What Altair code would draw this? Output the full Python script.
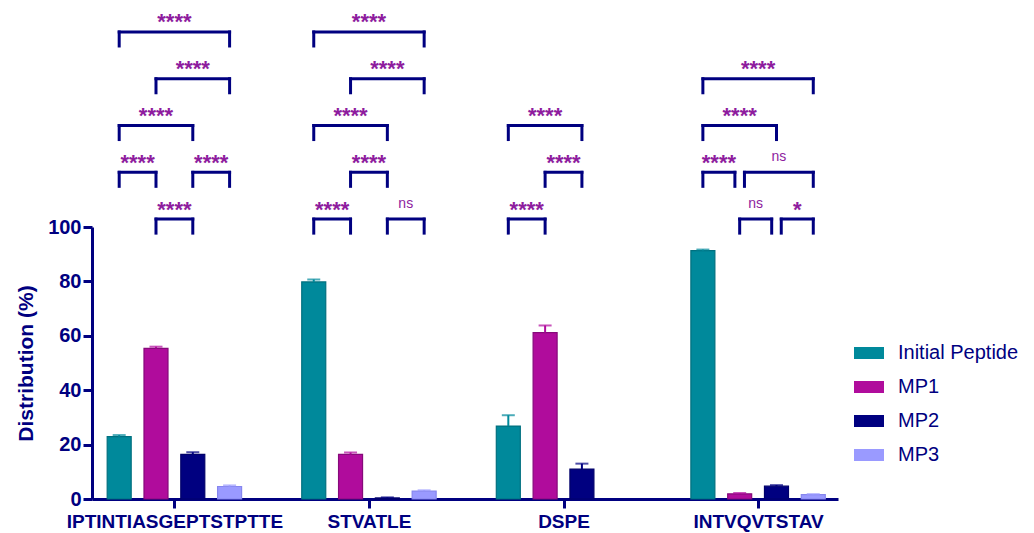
import altair as alt
import pandas as pd

# Peptides on the x axis and the four measured species
peptides = ["IPTINTIASGEPTSTPTTE", "STVATLE", "DSPE", "INTVQVTSTAV"]
series = ["Initial Peptide", "MP1", "MP2", "MP3"]

# Mean distribution (%) and upper error per peptide, one list per species
initial_mean = [22.9, 79.8, 26.8, 91.3]
initial_err = [0.6, 0.9, 4.0, 0.4]
mp1_mean = [55.4, 16.4, 61.2, 1.9]
mp1_err = [0.6, 0.7, 2.6, 0.3]
mp2_mean = [16.4, 0.4, 11.0, 4.7]
mp2_err = [0.8, 0.2, 2.0, 0.4]
mp3_mean = [4.6, 2.9, 0.0, 1.6]
mp3_err = [0.4, 0.3, 0.0, 0.2]

# Pairwise comparisons: peptide index, first/second species index, stacking tier, label
cmp_peptide = [0, 0, 0, 0, 0, 0,
               1, 1, 1, 1, 1, 1,
               2, 2, 2,
               3, 3, 3, 3, 3, 3]
cmp_a = [1, 0, 2, 0, 1, 0,
         0, 2, 1, 0, 1, 0,
         0, 1, 0,
         1, 2, 0, 1, 0, 0]
cmp_b = [2, 1, 3, 2, 3, 3,
         1, 3, 2, 2, 3, 3,
         1, 2, 2,
         2, 3, 1, 3, 2, 3]
cmp_tier = [0, 1, 1, 2, 3, 4,
            0, 0, 1, 2, 3, 4,
            0, 1, 2,
            0, 0, 1, 1, 2, 3]
cmp_label = ["****", "****", "****", "****", "****", "****",
             "****", "ns", "****", "****", "****", "****",
             "****", "****", "****",
             "ns", "*", "****", "ns", "****", "****"]

fills = ["#00899b", "#b00c9c", "#000080", "#9a9aff"]
strokes = ["#00707f", "#860a7a", "#00006a", "#8686ee"]
NAVY = "#000080"
SIG = "#8e1c9e"
FONT = "Liberation Sans"

# x layout in units of one bar slot; a peptide group spans a little over five slots
GROUP_STEP = 5.287
TIER_BASE, TIER_STEP, LEG = 102.9, 17.2, 5.15
GAP = 0.13

means = [initial_mean, mp1_mean, mp2_mean, mp3_mean]
errs = [initial_err, mp1_err, mp2_err, mp3_err]

rows = []
for s, name in enumerate(series):
    for g, pep in enumerate(peptides):
        m, e = means[s][g], errs[s][g]
        rows.append({"peptide": pep, "series": name, "pos": g * GROUP_STEP + s,
                     "mean": m, "hi": m + e, "err": e})
bars_df = pd.DataFrame(rows)

spans, legs, labels = [], [], []
for k in range(len(cmp_peptide)):
    g, a, b, t = cmp_peptide[k], cmp_a[k], cmp_b[k], cmp_tier[k]
    x1 = g * GROUP_STEP + a
    x2 = g * GROUP_STEP + b
    # pull apart brackets that share an end point on the same tier
    for j in range(len(cmp_peptide)):
        if j != k and cmp_peptide[j] == g and cmp_tier[j] == t:
            if cmp_b[j] == a:
                x1 += GAP
            if cmp_a[j] == b:
                x2 -= GAP
    top = TIER_BASE + t * TIER_STEP
    spans.append({"x1": x1, "x2": x2, "y": top})
    legs.append({"x": x1, "y": top, "y2": top - LEG})
    legs.append({"x": x2, "y": top, "y2": top - LEG})
    labels.append({"x": (x1 + x2) / 2, "y": top, "label": cmp_label[k]})
spans_df = pd.DataFrame(spans)
legs_df = pd.DataFrame(legs)
labels_df = pd.DataFrame(labels)

centers = [g * GROUP_STEP + 1.5 for g in range(len(peptides))]
label_expr = " : ".join(
    [f"datum.value < {c + 1:.3f} ? '{p}'" for c, p in zip(centers[:-1], peptides[:-1])]
    + [f"'{peptides[-1]}'"]
)

x_scale = alt.Scale(domain=[-0.603, 19.397], nice=False, zero=False)
y_scale = alt.Scale(domain=[0, 100], nice=False)

x_enc = alt.X(
    "pos:Q", scale=x_scale, title=None,
    axis=alt.Axis(values=centers, labelExpr=label_expr, grid=False,
                  domainColor=NAVY, domainWidth=3, tickColor=NAVY, tickWidth=3,
                  tickSize=9, labelColor=NAVY, labelFont=FONT, labelFontSize=19,
                  labelFontWeight="bold", labelPadding=4, labelFlush=False,
                  labelOverlap=False, labelLimit=0),
)
y_enc = alt.Y(
    "mean:Q", scale=y_scale, title="Distribution (%)",
    axis=alt.Axis(values=[0, 20, 40, 60, 80, 100], grid=False,
                  domainColor=NAVY, domainWidth=3, tickColor=NAVY, tickWidth=3,
                  tickSize=9, labelColor=NAVY, labelFont=FONT, labelFontSize=20,
                  labelFontWeight="bold", labelPadding=2,
                  titleColor=NAVY, titleFont=FONT, titleFontSize=21,
                  titleFontWeight="bold", titlePadding=11),
)

color_enc = alt.Color(
    "series:N", scale=alt.Scale(domain=series, range=fills),
    legend=alt.Legend(title=None, orient="none", legendX=765, legendY=114,
                      labelFont=FONT, labelFontSize=20, labelColor=NAVY,
                      symbolType="M-1.25,-0.5H1.25V0.5H-1.25Z", symbolSize=576,
                      symbolStrokeWidth=0, symbolOpacity=1, rowPadding=12,
                      labelOffset=17, padding=0),
)
stroke_enc = alt.Stroke("series:N", scale=alt.Scale(domain=series, range=strokes),
                        legend=None)

base = alt.Chart(bars_df)
bars = base.transform_filter("datum.mean > 0").mark_bar(
    size=24, strokeWidth=1.2, opacity=1
).encode(x=x_enc, y=y_enc, color=color_enc, stroke=stroke_enc)

err_stem = base.transform_filter("datum.err > 0").mark_rule(strokeWidth=2).encode(
    x="pos:Q", y="mean:Q", y2="hi:Q", color=alt.Color("series:N", legend=None)
)
err_cap = base.transform_filter("datum.err > 0").mark_tick(
    orient="horizontal", size=13, thickness=2
).encode(x="pos:Q", y="hi:Q", color=alt.Color("series:N", legend=None))

bracket_top = alt.Chart(spans_df).mark_rule(
    color=NAVY, strokeWidth=3, strokeCap="square"
).encode(x="x1:Q", x2="x2:Q", y="y:Q")
bracket_legs = alt.Chart(legs_df).mark_rule(
    color=NAVY, strokeWidth=3, strokeCap="square"
).encode(x="x:Q", y="y:Q", y2="y2:Q")

stars = alt.Chart(labels_df).transform_filter("datum.label != 'ns'").mark_text(
    font=FONT, fontSize=22, fontWeight="bold", color=SIG, baseline="alphabetic",
    dy=-2.5
).encode(x="x:Q", y="y:Q", text="label:N")
ns_text = alt.Chart(labels_df).transform_filter("datum.label == 'ns'").mark_text(
    font=FONT, fontSize=14, color=SIG, baseline="alphabetic", dy=-11
).encode(x="x:Q", y="y:Q", text="label:N")

chart = alt.layer(
    bars, err_stem, err_cap, bracket_top, bracket_legs, stars, ns_text
).properties(
    width=746, height=272,
    background="white",
    padding={"left": 92, "top": 227, "right": 196, "bottom": 34},
    autosize=alt.AutoSizeParams(type="none"),
).configure_view(stroke=None, strokeWidth=0)

chart.save("out.html", embed_options={"renderer": "svg", "actions": False})
